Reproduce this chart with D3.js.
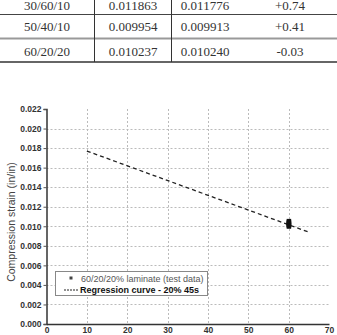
<!DOCTYPE html>
<html>
<head>
<meta charset="utf-8">
<script src="https://cdn.jsdelivr.net/npm/d3@7"></script>
<style>
  body { margin: 0; background: #fff; }
  svg { display: block; }
</style>
</head>
<body>
<div id="vis"></div>
<script>
// table rows (top fragment)
var tableRows = [
  ["30/60/10", "0.011863", "0.011776", "+0.74"],
  ["50/40/10", "0.009954", "0.009913", "+0.41"],
  ["60/20/20", "0.010237", "0.010240", "-0.03"]
];

// test data at 60 plies
var testX = [60, 60, 60, 60, 60, 60];
var testY = [0.0100, 0.0101, 0.0102, 0.0103, 0.0104, 0.0105];

// regression curve end points
var regX = [10, 65];
var regY = [0.0177, 0.0094];

var xTicks = [0, 10, 20, 30, 40, 50, 60, 70];
var yTicks = [0, 0.002, 0.004, 0.006, 0.008, 0.010, 0.012, 0.014, 0.016, 0.018, 0.020, 0.022];

var legendLabels = ["60/20/20% laminate (test data)", "Regression curve - 20% 45s"];

function init()
{
  var width = 337, height = 335;

  var svg = d3.select("#vis")
    .append("svg")
    .attr("width", width)
    .attr("height", height);

  // ---- table fragment (top row is cut off in the source) ----
  var rowY = [5, 26, 51];
  var colX = [47, 133, 205, 290];

  tableRows.forEach(function(r, i) {
    r.forEach(function(t, j) {
      svg.append("text")
        .attr("x", colX[j])
        .attr("y", rowY[i])
        .attr("dy", "0.35em")
        .style("text-anchor", "middle")
        .style("font-family", "Liberation Serif, Times New Roman, serif")
        .style("font-size", "13px")
        .style("fill", "#333")
        .text(t);
    });
  });

  svg.append("line").attr("x1", 0).attr("x2", width).attr("y1", 14.5).attr("y2", 14.5)
    .style("stroke", "#444").style("stroke-width", 1);
  svg.append("line").attr("x1", 0).attr("x2", width).attr("y1", 38.5).attr("y2", 38.5)
    .style("stroke", "#999").style("stroke-width", 2);
  svg.append("line").attr("x1", 0).attr("x2", width).attr("y1", 62).attr("y2", 62)
    .style("stroke", "#333").style("stroke-width", 1.3);

  [94.5, 171.5].forEach(function(x) {
    svg.append("line").attr("x1", x).attr("x2", x).attr("y1", 0).attr("y2", 62)
      .style("stroke", "#333").style("stroke-width", 1);
  });

  // ---- chart ----
  var x0 = 46.5, x1 = 329, yTop = 109, yBot = 324;

  var xScale = d3.scaleLinear().domain([0, 70]).range([x0, x1]);
  var yScale = d3.scaleLinear().domain([0, 0.022]).range([yBot, yTop]);

  // grid
  svg.selectAll("hgrid")
    .data(yTicks.filter(function(d) { return d > 0 && d < 0.022; }))
    .enter()
    .append("line")
      .attr("x1", x0)
      .attr("x2", x1)
      .attr("y1", function(d) { return Math.round(yScale(d)) + 0.5; })
      .attr("y2", function(d) { return Math.round(yScale(d)) + 0.5; })
      .style("stroke", "#bbb")
      .style("stroke-width", 1)
      .style("stroke-dasharray", "2,2");

  svg.selectAll("vgrid")
    .data(xTicks.filter(function(d) { return d > 0 && d < 70; }))
    .enter()
    .append("line")
      .attr("x1", function(d) { return Math.round(xScale(d)) + 0.5; })
      .attr("x2", function(d) { return Math.round(xScale(d)) + 0.5; })
      .attr("y1", yTop)
      .attr("y2", yBot)
      .style("stroke", "#bbb")
      .style("stroke-width", 1)
      .style("stroke-dasharray", "2,2");

  var xAxis = d3.axisBottom(xScale)
    .tickValues(xTicks)
    .tickSize(0)
    .tickPadding(5)
    .tickFormat(d3.format("d"));

  var yAxis = d3.axisLeft(yScale)
    .tickValues(yTicks)
    .tickSize(3)
    .tickPadding(2)
    .tickFormat(d3.format(".3f"));

  var gx = svg.append("g")
    .attr("transform", "translate(0," + yBot + ")")
    .call(xAxis);

  var gy = svg.append("g")
    .attr("transform", "translate(" + x0 + ",0)")
    .call(yAxis);

  [gx, gy].forEach(function(g) {
    g.select(".domain").style("stroke", "#333").style("stroke-width", 1.5);
    g.selectAll(".tick line").style("stroke", "#555");
    g.selectAll("text")
      .style("font-family", "Liberation Sans, Arial, sans-serif")
      .style("font-size", "8.5px")
      .style("font-weight", "bold")
      .style("fill", "#333");
  });
  gx.selectAll("text").attr("dy", "0.5em");

  svg.append("text")
    .attr("transform", "translate(11," + 222 + ") rotate(-90)")
    .attr("dy", "0.35em")
    .style("text-anchor", "middle")
    .style("font-family", "Liberation Sans, Arial, sans-serif")
    .style("font-size", "10.5px")
    .style("fill", "#444")
    .text("Compression strain (in/in)");

  // regression curve
  var regData = regX.map(function(d, i) { return { x: d, y: regY[i] }; });
  var line = d3.line()
    .x(function(d) { return xScale(d.x); })
    .y(function(d) { return yScale(d.y); });

  svg.append("path")
    .datum(regData)
    .attr("d", line)
    .style("fill", "none")
    .style("stroke", "#222")
    .style("stroke-width", 1.3)
    .style("stroke-dasharray", "4,3");

  // test data
  svg.selectAll("testPts")
    .data(testY)
    .enter()
    .append("rect")
      .attr("x", function(d, i) { return xScale(testX[i]) - 2; })
      .attr("y", function(d) { return yScale(d) - 2.5; })
      .attr("width", 4.5)
      .attr("height", 5)
      .style("fill", "#111");

  // legend
  var legend = svg.append("g").attr("class", "legend");

  legend.append("rect")
    .attr("x", 55.5)
    .attr("y", 271.5)
    .attr("width", 152)
    .attr("height", 24)
    .style("fill", "white")
    .style("stroke", "#888")
    .style("stroke-width", 1);

  legend.append("rect")
    .attr("x", 69.5)
    .attr("y", 276.5)
    .attr("width", 3)
    .attr("height", 3)
    .style("fill", "#444");

  legend.append("line")
    .attr("x1", 64)
    .attr("x2", 78)
    .attr("y1", 290)
    .attr("y2", 290)
    .style("stroke", "#222")
    .style("stroke-width", 1)
    .style("stroke-dasharray", "2,1");

  legend.append("text")
    .attr("x", 81)
    .attr("y", 278.5)
    .attr("dy", "0.35em")
    .style("font-family", "Liberation Sans, Arial, sans-serif")
    .style("font-size", "9px")
    .style("fill", "#555")
    .text(legendLabels[0]);

  legend.append("text")
    .attr("x", 80)
    .attr("y", 290)
    .attr("dy", "0.35em")
    .style("font-family", "Liberation Sans, Arial, sans-serif")
    .style("font-size", "9px")
    .style("font-weight", "bold")
    .style("fill", "#111")
    .text(legendLabels[1]);
}

window.onload = init;
</script>
</body>
</html>
